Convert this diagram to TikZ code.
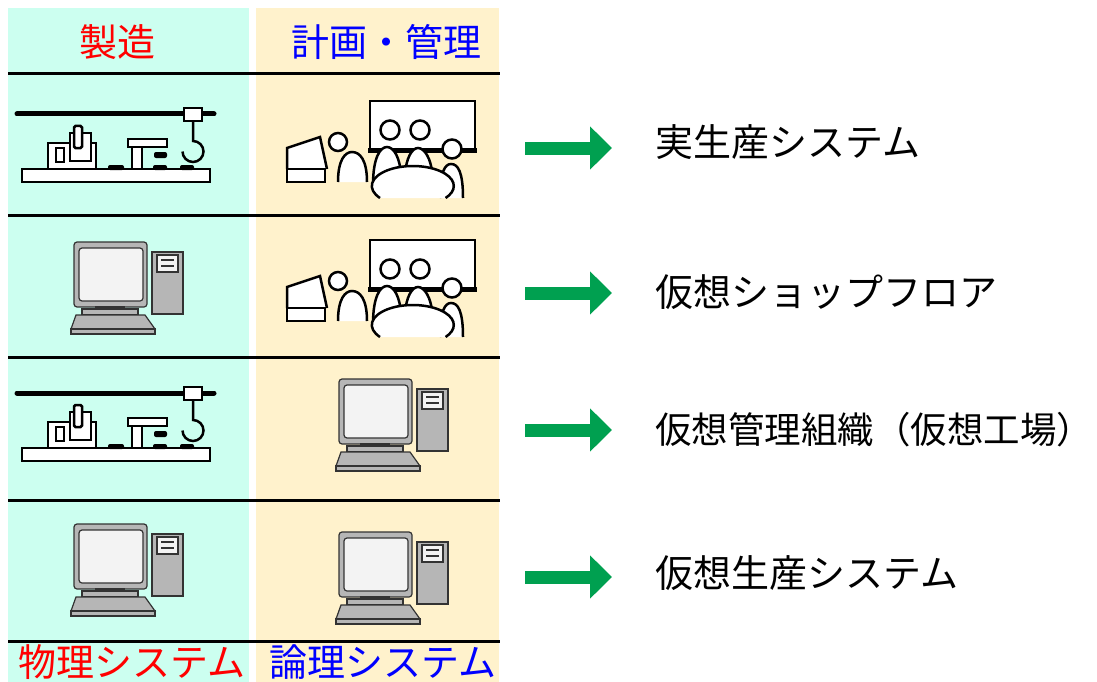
\documentclass[tikz,border=0pt]{standalone}
\usepackage{fontspec}
\setmainfont{Noto Sans CJK JP}
\usetikzlibrary{arrows.meta}

\definecolor{mfgcyan}{RGB}{204,255,240}
\definecolor{plancream}{RGB}{255,242,204}
\definecolor{arrowgreen}{RGB}{0,160,80}
\definecolor{pcgray}{RGB}{182,182,182}
\definecolor{pcedge}{RGB}{51,51,51}
\definecolor{pcscreen}{RGB}{243,243,243}

\tikzset{
  icon/.style    = {line width=2.5pt, fill=white},
  blob/.style    = {fill=black, rounded corners=2pt},
  pc/.style      = {draw=pcedge, fill=pcgray, line width=1.2pt},
  rowline/.style = {line width=3pt},
  colhead/.style = {font=\fontsize{38}{42}\selectfont, inner sep=0pt},
  syslab/.style  = {font=\fontsize{38}{42}\selectfont, anchor=west, inner sep=0pt},
  garrow/.style  = {arrowgreen, line width=13pt, -{Triangle[length=22pt,width=42pt]}},
}

% crane, machine and workbench on the shop floor
\newcommand{\factoryicon}{%
  \draw[line width=5pt, line cap=round] (17,114) -- (214,114);
  \draw[icon] (184,108) rectangle (202,121);
  \draw[line width=2.5pt] (193,121) -- (193,141) arc[start angle=-90, end angle=180, radius=10.5];
  \draw[icon] (22,169) rectangle (210,182);
  \draw[icon] (48,143) rectangle (96,169);
  \draw[icon] (56,148) rectangle (64,162);
  \draw[icon] (70,133) rectangle (91,161);
  \draw[icon, rounded corners=1.5pt] (74,126) rectangle (82,148);
  \draw[icon] (128,139) rectangle (167,147);
  \draw[icon] (132,147) rectangle (142,169);
  \fill[blob] (154,152) rectangle (167,158);
  \fill[blob] (108,165) rectangle (124,170);
  \fill[blob] (153,165) rectangle (167,170);
  \fill[blob] (180,165) rectangle (194,170);
}

% people round a table in front of a board
\newcommand{\meetingicon}{%
  \draw[icon] (370,101) rectangle (475,150);
  \draw[line width=5pt] (368,150) -- (477,150);
  \draw[icon] (390,130) circle[radius=9.5];
  \draw[icon] (420,130) circle[radius=9.5];
  \draw[icon] (373,185) .. controls (373,158) and (380,147) .. (387,147) .. controls (394,147) and (400,158) .. (401,175);
  \draw[icon] (405,175) .. controls (406,158) and (412,148) .. (418,148) .. controls (425,148) and (431,160) .. (432,172);
  \draw[icon] (452,149) circle[radius=9.5];
  \draw[icon] (440,198) .. controls (440,172) and (445,164) .. (451,164) .. controls (458,164) and (463,172) .. (463,198);
  \draw[icon] (380,198) arc[start angle=143.13, end angle=396.87, x radius=41, y radius=20];
  \draw[icon] (338,142) circle[radius=9];
  \draw[icon] (338,182) .. controls (338,160) and (345,152) .. (352,152) .. controls (360,152) and (367,160) .. (367,182);
  \draw[icon] (287,169) -- (287,148) -- (320,137) -- (327,169);
  \draw[icon] (287,169) rectangle (325,182);
}

% desktop computer
\newcommand{\pcicon}{%
  \draw[pc, rounded corners=3pt] (74,242) rectangle (147,307);
  \draw[pc, fill=pcscreen, rounded corners=3pt] (79,248) rectangle (143,301);
  \fill[pcedge] (95,306) rectangle (125,309);
  \draw[pc] (82,309) rectangle (138,315);
  \draw[pc] (76,315) -- (145,315) -- (155,329) -- (71,329) -- cycle;
  \draw[pc] (71,329) rectangle (155,334);
  \draw[pc] (152,252) rectangle (183,314);
  \draw[pc, fill=pcscreen] (157,255) rectangle (178,272);
  \draw[pcedge, line width=1.2pt] (161,260) -- (174,260) (161,266) -- (174,266);
}

\begin{document}
\begin{tikzpicture}[x=1pt, y=-1pt]
\useasboundingbox (0,0) rectangle (1097,682);
\fill[white] (0,0) rectangle (1097,682);

% two columns
\fill[mfgcyan]   (8,8) rectangle (249,682);
\fill[plancream] (256,8) rectangle (499,682);

\node[colhead, red]  (hdmfg)  at (117,42) {製造};
\node[colhead, blue] (hdplan) at (386,42) {計画・管理};

\foreach \y in {74,215,357,500,641}
  \draw[rowline] (8,\y) -- (500,\y);

\node[colhead, red]  (ftphys)  at (132,662) {物理システム};
\node[colhead, blue] (ftlogic) at (383,662) {論理システム};

% icons
\factoryicon
\meetingicon
\begin{scope}[shift={(0,139)}]
  \meetingicon
\end{scope}
\pcicon
\begin{scope}[shift={(0,279)}]
  \factoryicon
\end{scope}
\begin{scope}[shift={(265,137)}]
  \pcicon
\end{scope}
\begin{scope}[shift={(0,282)}]
  \pcicon
\end{scope}
\begin{scope}[shift={(265,290)}]
  \pcicon
\end{scope}

% resulting systems
\node[syslab] (sys1) at (655,142) {実生産システム};
\node[syslab] (sys2) at (655,292) {仮想ショップフロア};
\node[syslab, font=\fontsize{36.5}{42}\selectfont] (sys3) at (655,430) {仮想管理組織（仮想工場）};
\node[syslab] (sys4) at (655,573) {仮想生産システム};

\coordinate (a1) at (525,148);
\coordinate (a2) at (525,293);
\coordinate (a3) at (525,430);
\coordinate (a4) at (525,577);
\foreach \a in {a1,a2,a3,a4}
  \draw[garrow] (\a) -- ++(87,0);
\end{tikzpicture}
\end{document}
